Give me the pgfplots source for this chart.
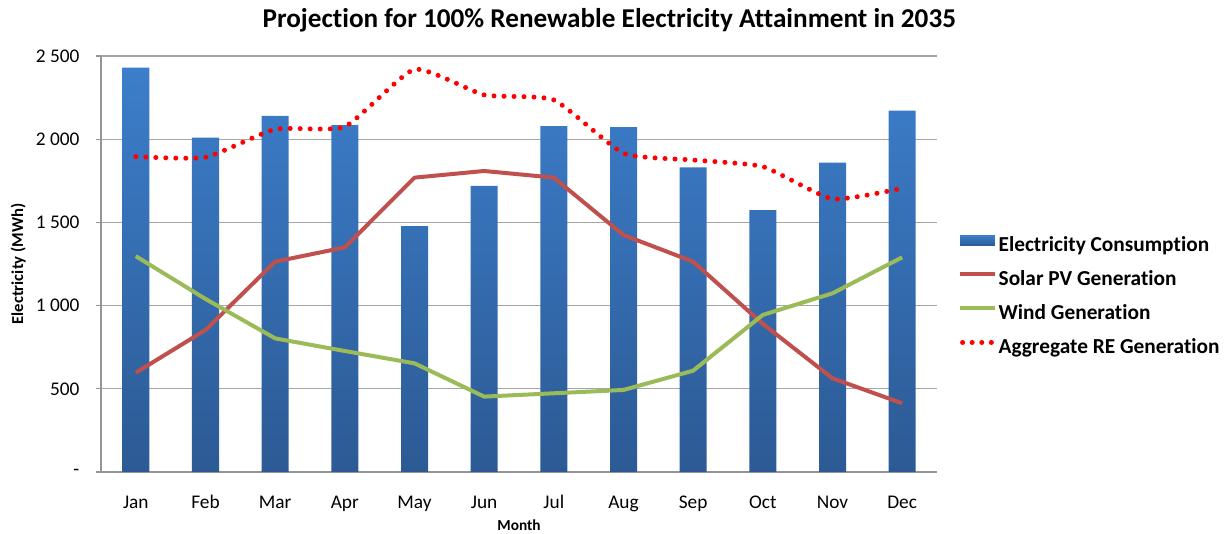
\documentclass[border=0pt]{standalone}
\usepackage{fontspec}
\setmainfont{Carlito}[Ligatures=NoCommon]
\usepackage{pgfplots}
\usepackage{pgfplotstable}
\pgfplotsset{compat=1.18}

\definecolor{barTop}{HTML}{3C7ECB}
\definecolor{barBot}{HTML}{2C5A94}
\definecolor{solarRed}{HTML}{C0504D}
\definecolor{windGreen}{HTML}{9BBB59}
\definecolor{gridGray}{HTML}{A6A6A6}

% month index, consumption, solar PV, wind, aggregate RE (MWh)
\pgfplotstableread{
x cons solar wind agg
0  2430 597  1297 1895
1  2010 853  1040 1891
2  2140 1264 803  2060
3  2085 1350 727  2075
4  1477 1769 653  2420
5  1719 1809 453  2266
6  2079 1769 473  2236
7  2073 1424 493  1915
8  1831 1264 609  1875
9  1573 890  944  1835
10 1859 563  1074 1641
11 2171 413  1290 1705
}\data

\begin{document}
\begin{tikzpicture}
\useasboundingbox (-75.75pt,-46.5pt) rectangle (847.5pt,354pt);
\begin{axis}[
    width=627pt, height=312pt,
    scale only axis,
    xmin=-0.5, xmax=11.5,
    ymin=0, ymax=2500,
    axis x line*=bottom,
    axis y line*=left,
    axis line style={gridGray!90!black, line width=0.9pt},
    xtick={0,...,11},
    xticklabels={Jan,Feb,Mar,Apr,May,Jun,Jul,Aug,Sep,Oct,Nov,Dec},
    xtick style={draw=none},
    minor xtick={-0.5,0.5,...,11.5},
    minor tick length=4pt,
    ytick={0,500,1000,1500,2000,2500},
    yticklabels={-,500,1 000,1 500,2 000,2 500},
    major tick length=4pt,
    tick align=outside,
    tick style={gridGray!90!black, line width=0.9pt},
    ymajorgrids,
    grid style={gridGray, line width=0.9pt},
    ticklabel style={font=\fontsize{14.5}{17}\selectfont},
    yticklabel style={anchor=east, inner sep=0pt, xshift=-12pt},
    xticklabel style={anchor=north, inner sep=0pt, text height=10.5pt, text depth=3pt, yshift=-13pt},
    title={Projection for 100\% Renewable Electricity Attainment in 2035},
    title style={font=\bfseries\fontsize{20.4}{24}\selectfont, at={(0.608,1)}, anchor=base, yshift=15pt},
    ylabel={Electricity (MWh)},
    ylabel style={font=\bfseries\fontsize{12.5}{15}\selectfont, at={(axis description cs:-0.099,0.5)}, anchor=center},
    xlabel={Month},
    xlabel style={font=\bfseries\fontsize{11.5}{14}\selectfont, at={(axis description cs:0.5,-0.127)}, anchor=center},
    legend style={at={(1.025,0.570)}, anchor=north west, draw=none, fill=none,
        inner sep=0pt, row sep=11.5pt,
        nodes={inner sep=0pt, text height=11pt, text depth=3pt, font=\bfseries\fontsize{16}{19}\selectfont}},
    legend cell align=left,
    clip=false,
]
\addplot[ybar, bar width=20.25pt, draw=none, top color=barTop, bottom color=barBot,
    legend image code/.code={\fill[top color=barTop, bottom color=barBot] (0pt,0.5pt) rectangle (26pt,8.5pt);}]
    table[x=x, y=cons] {\data};
\addlegendentry{\hspace{1pt}Electricity Consumption}

\addplot[solarRed, line width=3pt, line join=round,
    legend image code/.code={\draw[solarRed, line width=3pt] (0pt,4.5pt) -- (26pt,4.5pt);}]
    table[x=x, y=solar] {\data};
\addlegendentry{\hspace{1pt}Solar PV Generation}

\addplot[windGreen, line width=3pt, line join=round,
    legend image code/.code={\draw[windGreen, line width=3pt] (0pt,4.5pt) -- (26pt,4.5pt);}]
    table[x=x, y=wind] {\data};
\addlegendentry{\hspace{1pt}Wind Generation}

\addplot[red, line width=3.75pt, line cap=round, dash pattern=on 0pt off 7.5pt, smooth, tension=0.3,
    legend image code/.code={\draw[red, line width=3.75pt, line cap=round, dash pattern=on 0pt off 7.2pt] (1.8pt,4.5pt) -- (26pt,4.5pt);}]
    table[x=x, y=agg] {\data};
\addlegendentry{\hspace{1pt}Aggregate RE Generation}
\end{axis}
\end{tikzpicture}
\end{document}
